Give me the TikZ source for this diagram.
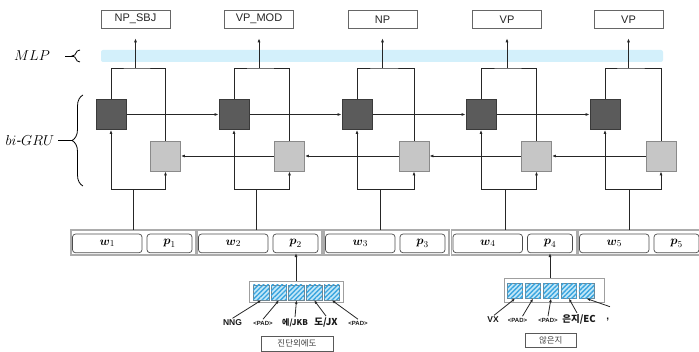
\documentclass[tikz,border=0pt]{standalone}
\usepackage{amsmath}
\usepackage{fontspec}
\setmainfont{Liberation Sans}
\newfontfamily\cjk{Noto Sans CJK KR}
\usetikzlibrary{arrows.meta,patterns.meta,decorations.pathreplacing}
\definecolor{darkbox}{HTML}{5B5B5B}
\definecolor{darkedge}{HTML}{3A3A3A}
\definecolor{lightbox}{HTML}{C6C6C6}
\definecolor{lightedge}{HTML}{8A8A8A}
\definecolor{mlpblue}{HTML}{D3F0FB}
\definecolor{hatchblue}{HTML}{3AA5DF}
\definecolor{hatchbg}{HTML}{C4E8F8}
\definecolor{sqedge}{HTML}{6F8794}
\begin{document}
\begin{tikzpicture}[x=1pt,y=-1pt,
  dk/.style={draw=darkedge, fill=darkbox, line width=0.8pt, minimum width=30pt, minimum height=30pt, inner sep=0pt},
  lt/.style={draw=lightedge, fill=lightbox, line width=0.8pt, minimum width=30pt, minimum height=30pt, inner sep=0pt},
  outlab/.style={draw=gray!80!black, line width=0.6pt, fill=white, minimum width=69pt, minimum height=17.5pt, inner sep=0pt, font=\fontsize{11}{13}\selectfont, text=black!85},
  conn/.style={line width=0.9pt, draw=black!85},
  arr/.style={conn, -{Latex[length=4pt,width=3pt]}},
  thinarr/.style={line width=0.8pt, draw=black!85, -{Latex[length=3.5pt,width=2.8pt]}},
  grpbox/.style={draw=gray!65, line width=1.3pt, minimum width=125pt, minimum height=25pt, inner sep=0pt},
  inbox/.style={draw=gray!60!black, line width=0.7pt, rounded corners=3pt, minimum height=18.7pt, inner sep=0pt, font=\fontsize{13}{15}\selectfont},
  embbox/.style={draw=gray!75, line width=1pt, fill=white, inner sep=0pt},
  hsq/.style={draw=sqedge, line width=0.6pt, fill=hatchbg, minimum width=15.7pt, minimum height=15pt, inner sep=0pt,
    postaction={pattern={Lines[angle=45,distance=3.3pt,line width=1.4pt]}, pattern color=hatchblue}},
  tag/.style={inner sep=1.5pt, font=\fontsize{8.5}{10}\selectfont\bfseries, text=black!90},
  padtag/.style={inner sep=1.5pt, font=\fontsize{6}{7}\selectfont\bfseries, text=black!90},
  ktag/.style={inner sep=1.5pt, font=\fontsize{8}{10}\selectfont\cjk\bfseries, text=black!90},
  kbox/.style={draw=gray!70!black, line width=0.6pt, inner sep=0pt, font=\fontsize{8.5}{10}\selectfont\cjk, text=black!75},
  side/.style={font=\fontsize{14}{16}\selectfont}
]
\useasboundingbox (0,0) rectangle (699,352);
\clip (0,0) rectangle (699,352);

% MLP bar
\fill[mlpblue, rounded corners=2pt] (101,50) rectangle (663,62);

% output labels
\node[outlab] (o1) at (135.5,19.25) {NP\_SBJ};
\node[outlab] (o2) at (259,19.25) {VP\_MOD};
\node[outlab] (o3) at (382.5,19.25) {NP};
\node[outlab] (o4) at (507,19.25) {VP};
\node[outlab] (o5) at (628.5,19.25) {VP};

% junctions
\coordinate (j1) at (135.5,68);
\coordinate (j2) at (259,68);
\coordinate (j3) at (382.5,68);
\coordinate (j4) at (507,68);
\coordinate (j5) at (628.5,68);
\coordinate (b1) at (133,189);
\coordinate (b2) at (256,189);
\coordinate (b3) at (380.3,189);
\coordinate (b4) at (505,189);
\coordinate (b5) at (629,189);
\coordinate (c1) at (133,230);
\coordinate (c2) at (256,230);
\coordinate (c3) at (380.3,230);
\coordinate (c4) at (505,230);
\coordinate (c5) at (629,230);

% GRU cells
\node[dk] (d1) at (111,114.5) {};
\node[dk] (d2) at (234,114.5) {};
\node[dk] (d3) at (357,114.5) {};
\node[dk] (d4) at (481,114.5) {};
\node[dk] (d5) at (605,114.5) {};
\node[lt] (l1) at (165.5,156) {};
\node[lt] (l2) at (289.5,156) {};
\node[lt] (l3) at (414,156) {};
\node[lt] (l4) at (536.5,156) {};
\node[lt] (l5) at (661,156) {};

% input groups
\node[grpbox] (g1) at (133.5,242.5) {};
\node[grpbox] (g2) at (259.5,242.5) {};
\node[grpbox] (g3) at (386.5,242.5) {};
\node[grpbox] (g4) at (514,242.5) {};
\node[grpbox] (g5) at (640.5,242.5) {};
\node[inbox, minimum width=69.5pt] (w1) at (107.25,243.4) {$\boldsymbol{w}_{1}$};
\node[inbox, minimum width=69.5pt] (w2) at (233.25,243.4) {$\boldsymbol{w}_{2}$};
\node[inbox, minimum width=69.5pt] (w3) at (360.25,243.4) {$\boldsymbol{w}_{3}$};
\node[inbox, minimum width=69.5pt] (w4) at (487.75,243.4) {$\boldsymbol{w}_{4}$};
\node[inbox, minimum width=69.5pt] (w5) at (614.25,243.4) {$\boldsymbol{w}_{5}$};
\node[inbox, minimum width=45pt] (p1) at (169.5,243.4) {$\boldsymbol{p}_{1}$};
\node[inbox, minimum width=45pt] (p2) at (295.5,243.4) {$\boldsymbol{p}_{2}$};
\node[inbox, minimum width=45pt] (p3) at (422.5,243.4) {$\boldsymbol{p}_{3}$};
\node[inbox, minimum width=45pt] (p4) at (550,243.4) {$\boldsymbol{p}_{4}$};
\node[inbox, minimum width=45pt] (p5) at (676.5,243.4) {$\boldsymbol{p}_{5}$};

% connections
\foreach \i in {1,2,3,4,5}{
  \draw[conn] (d\i.north) |- (j\i) -| (l\i.north);
  \draw[arr] (j\i) -- ([yshift=-10pt]o\i.south);
  \draw[conn] (c\i) -- (b\i);
  \draw[arr] (b\i) -| (d\i.south);
  \draw[arr] (b\i) -| (l\i.south);
}
\foreach \i/\n in {1/2,2/3,3/4,4/5}{
  \draw[arr] (d\i.east) -- (d\n.west);
  \draw[arr] (l\n.west) -- (l\i.east);
}
% redraw cells above crossing lines
\foreach \i in {1,2,3,4,5}{
  \node[dk] at (d\i) {};
  \node[lt] at (l\i) {};
}

% braces and side labels
\draw[line width=0.8pt, decorate, decoration={brace, amplitude=8pt}] (80,62) -- (80,50);
\coordinate (mt) at (72.5,56);
\coordinate (ml) at (65,56);
\draw[line width=0.8pt] (ml) -- (mt);
\node[side] (mlp) at (32,55.5) {$MLP$};

\draw[line width=0.8pt, decorate, decoration={brace, amplitude=11pt}] (83,186) -- (83,95);
\coordinate (gt) at (72,140.5);
\coordinate (gl) at (58,140.5);
\draw[line width=0.8pt] (gl) -- (gt);
\node[side] (gru) at (30,140.5) {$bi$-$GRU$};

% embedding 1
\node[embbox, minimum width=94pt, minimum height=21.3pt] (e1) at (296,292.35) {};
\node[hsq] (s11) at (261.2,292.5) {};
\node[hsq] (s12) at (278.9,292.5) {};
\node[hsq] (s13) at (296.5,292.5) {};
\node[hsq] (s14) at (314.2,292.5) {};
\node[hsq] (s15) at (331.9,292.5) {};
\draw[arr] (e1.north) -- (e1.north |- p2.south);
\node[tag] (t11) at (232.5,323) {NNG};
\node[padtag] (t12) at (263,323) {<PAD>};
\node[ktag] (t13) at (295,323) {에/JKB};
\node[ktag, font=\fontsize{9.5}{11}\selectfont\cjk\bfseries] (t14) at (326,322.5) {도/JX};
\node[padtag] (t15) at (358,323) {<PAD>};
\foreach \k in {1,2,3,4,5}
  \draw[thinarr] (t1\k.north) -- (s1\k.south);
\node[kbox, minimum width=72pt, minimum height=14.5pt] (k1) at (297,343.8) {진단외에도};

% embedding 2
\node[embbox, minimum width=100.3pt, minimum height=24pt] (e2) at (554.2,290.3) {};
\node[hsq, minimum width=15.5pt] (s21) at (515,290.8) {};
\node[hsq, minimum width=15.5pt] (s22) at (533,290.8) {};
\node[hsq, minimum width=15.5pt] (s23) at (551,290.8) {};
\node[hsq, minimum width=15.5pt] (s24) at (569,290.8) {};
\node[hsq, minimum width=15.5pt] (s25) at (586.7,290.8) {};
\draw[arr] (p4.south |- e2.north) -- (p4.south);
\node[tag] (t21) at (493,320) {VX};
\node[padtag] (t22) at (517.5,320) {<PAD>};
\node[padtag] (t23) at (548,320) {<PAD>};
\node[ktag, font=\fontsize{9.5}{11}\selectfont\cjk\bfseries] (t24) at (579,319.5) {은지/EC};
\node[tag, font=\fontsize{10}{11}\selectfont\bfseries] (t25) at (607.7,320) {,};
\coordinate (cm) at (610,306.7);
\draw[thinarr] ([xshift=1pt]t21.north) -- (s21.south);
\draw[thinarr] ([xshift=5pt]t22.north) -- (s22.south);
\draw[thinarr] (t23.north) -- (s23.south);
\draw[thinarr] ([xshift=-2pt]t24.north) -- (s24.south);
\draw[thinarr] (cm) -- (s25.south);
\node[kbox, minimum width=51.7pt, minimum height=14pt] (k2) at (550.8,340.3) {않은지};
\end{tikzpicture}
\end{document}
